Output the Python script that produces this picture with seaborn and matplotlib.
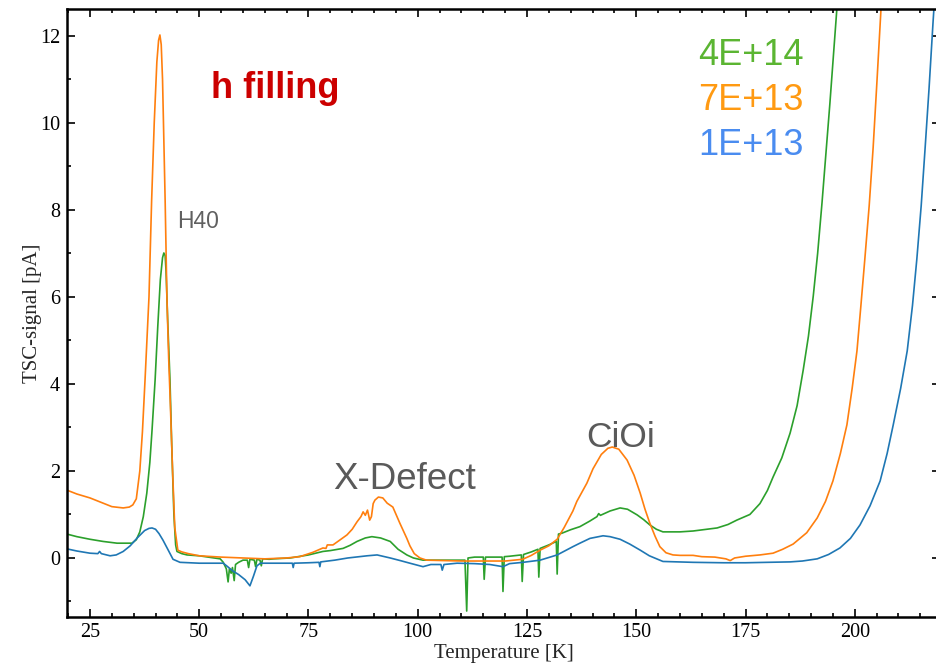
import numpy as np
import pandas as pd
import matplotlib
matplotlib.use("Agg")
import matplotlib.pyplot as plt
from matplotlib.ticker import MultipleLocator
import seaborn as sns

# ---------------- data ----------------
temp_4e14 = [19.7, 22, 25, 28, 31.2, 34.6, 35.6, 36.4, 37.2, 38, 38.7, 39.2, 39.9, 40.5, 41.1, 41.6, 41.9,
             42.2, 42.4, 42.8, 43.3, 43.7, 44.2, 44.6, 44.9, 46, 47.2, 50, 54.8, 55.5, 56.2, 56.6, 56.9,
             57.3, 57.6, 58.0, 58.3, 59.0, 60.0, 61.0, 61.3, 61.6, 62.6, 62.9, 63.2, 63.9, 64.2,
             64.5, 66, 67, 70.8, 75, 78.3, 80, 82.9, 84.5, 86.1, 88, 89.5, 91.5, 93.7, 95.5, 97.5, 99,
             101.2, 105, 110.8, 111.2, 111.5, 113, 115.0, 115.2, 115.5, 117, 119.3, 119.5, 119.8,
             121, 123.7, 123.9, 124.2, 126, 127.5, 127.7, 128.0, 130, 131.7, 131.9, 132.2, 133,
             135, 137.1, 139.4, 141, 141.4, 141.8, 144, 146.3, 148, 150.2, 151.7, 153.1, 154.6, 156.1, 160, 163,
             168.5, 171, 173, 176, 178.3, 180, 181.3, 183.3, 185.2, 186.8, 188.2, 189.4, 190.5, 191.5,
             192.5, 193.4, 194.3, 195.9, 197]
sig_4e14 = [0.55, 0.49, 0.43, 0.38, 0.34, 0.34, 0.42, 0.6, 0.95, 1.49, 2.2, 2.94, 4.09, 5.3, 6.4, 6.9, 7.01,
            6.95, 6.6, 5.4, 4.1, 2.6, 1.0, 0.3, 0.15, 0.1, 0.07, 0.05, -0.02, -0.1, -0.25, -0.55, -0.25,
            -0.35, -0.22, -0.52, -0.15, -0.1, -0.05, -0.05, -0.22, -0.03, -0.05, -0.2, -0.03, -0.05, -0.18,
            -0.02, -0.03, -0.02, 0.0, 0.07, 0.15, 0.17, 0.22, 0.29, 0.38, 0.46, 0.49, 0.46, 0.38, 0.2, 0.07, 0.0,
            -0.05, -0.05, -0.05, -1.22, 0.0, 0.02, 0.02, -0.49, 0.02, 0.02, 0.02, -0.77, 0.03,
            0.04, 0.07, -0.54, 0.08, 0.14, 0.2, -0.44, 0.22, 0.3, 0.38, -0.37, 0.55, 0.57,
            0.65, 0.72, 0.85, 0.95, 1.02, 0.98, 1.08, 1.15, 1.12, 0.99, 0.88, 0.76, 0.66, 0.6, 0.6, 0.62,
            0.69, 0.77, 0.87, 1.0, 1.25, 1.55, 1.86, 2.3, 2.87, 3.5, 4.32, 5.1, 6.02, 7.0,
            8.16, 9.3, 10.44, 12.62, 14.2]

temp_7e13 = [19.7, 22, 25, 27.5, 30, 32.6, 34, 34.8, 35.6, 36.4, 37.0, 37.6, 38.5, 39.1, 39.7, 40.3, 40.7,
             41.0, 41.3, 41.6, 42.2, 42.6, 43.0, 43.4, 43.9, 44.4, 45.1, 46, 47.5, 50, 55, 60, 65, 70, 73,
             76, 78.3, 79.0, 79.3, 80.6, 82, 83.8, 85, 86.1, 87.0, 87.5, 88.0, 88.5, 89.0, 89.4, 89.8,
             90.2, 91.0, 92, 93, 94.3, 95.9, 97.5, 98.2, 99.2, 100.5, 102, 110, 120, 124, 126, 128,
             130, 131.9, 133.5, 135.5, 136.4, 138.7, 140.1, 142, 143.5, 144.5, 146, 147.9, 149.5,
             150.9, 152, 153.1, 154.3, 155.4, 156.8, 158.4, 160, 163, 165, 168, 170.5, 171.5, 172.5,
             175, 178.3, 181.3, 183.5, 185.9, 189, 191.4, 193.3, 195, 196.7, 198.2, 199.4, 200.5,
             201.4, 202.3, 203.3, 204.2, 205.1, 206.0, 207]
sig_7e13 = [1.56, 1.47, 1.38, 1.28, 1.18, 1.15, 1.17, 1.22, 1.36, 2.0, 2.9, 4.1, 6.0, 8.2, 10.0, 11.4, 11.9,
            12.02, 11.8, 11.0, 8.2, 6.0, 4.6, 3.5, 2.0, 0.7, 0.18, 0.14, 0.1, 0.05, 0.02, 0.0, -0.02, 0.0, 0.03,
            0.13, 0.23, 0.22, 0.3, 0.3, 0.4, 0.53, 0.66, 0.83, 0.95, 1.06, 0.98, 1.1, 0.87, 0.95, 1.25,
            1.33, 1.40, 1.38, 1.26, 1.17, 0.8, 0.45, 0.28, 0.1, 0.0, -0.05, -0.07, -0.07, -0.03, 0.06, 0.18,
            0.28, 0.43, 0.7, 1.08, 1.3, 1.72, 2.05, 2.38, 2.52, 2.55, 2.5, 2.25, 1.9,
            1.49, 1.12, 0.8, 0.5, 0.26, 0.12, 0.07, 0.06, 0.06, 0.03, 0.02, -0.02, -0.06, 0.0,
            0.04, 0.07, 0.11, 0.2, 0.32, 0.58, 0.92, 1.3, 1.77, 2.4, 3.06, 3.9, 4.76,
            5.8, 6.87, 8.1, 9.43, 11.0, 12.62, 14.4]

temp_1e13 = [19.7, 22, 25, 26.8, 27.2, 27.6, 29.6, 31, 32.6, 34.2, 35.8, 37.5, 38.5, 39.2, 40.0, 40.8,
             41.7, 42.8, 44, 45.6, 50, 55.5, 56.5, 57.7, 59, 60.5, 61.6, 62.4, 63.2, 64, 70, 71.3, 71.5,
             71.7, 75, 77.4, 77.6, 77.8, 81, 84, 88.4, 90.7, 93.7, 96, 98.2, 101.2, 103, 105.3, 105.6,
             106, 109, 113, 116.5, 119.5, 121, 124.1, 128, 131.9, 135.5, 137.1, 139.4, 142.4, 144,
             146.3, 148.5, 150.9, 153, 156.1, 163, 170, 175, 180, 185.2, 188, 191.4, 194, 196.6, 199,
             201.2, 203.5, 205.8, 207.4, 208.8, 210.5, 212, 213.2, 214.2, 215.2, 216.1, 217.0, 217.9, 219]
sig_1e13 = [0.21, 0.16, 0.11, 0.1, 0.15, 0.1, 0.05, 0.07, 0.15, 0.28, 0.46, 0.63, 0.68, 0.69, 0.66, 0.56,
            0.41, 0.2, -0.03, -0.1, -0.12, -0.12, -0.2, -0.3, -0.38, -0.5, -0.64, -0.42, -0.18, -0.12, -0.12, -0.12, -0.22,
            -0.12, -0.11, -0.1, -0.2, -0.09, -0.05, 0.0, 0.05, 0.07, 0.0, -0.06, -0.12, -0.2, -0.15, -0.15, -0.28,
            -0.15, -0.12, -0.13, -0.15, -0.2, -0.13, -0.1, -0.05, 0.07, 0.26, 0.34, 0.45, 0.51, 0.49,
            0.43, 0.32, 0.18, 0.05, -0.08, -0.1, -0.11, -0.11, -0.1, -0.09, -0.07, -0.02, 0.08, 0.23, 0.45,
            0.76, 1.2, 1.77, 2.4, 3.06, 3.9, 4.76, 5.8, 6.87, 8.1, 9.43, 10.8, 12.3, 14.0]

series_names = ["4E+14", "7E+13", "1E+13"]
line_colors = ["#2ca02c", "#ff7f0e", "#1f77b4"]
label_colors = ["#5bb532", "#ff9a12", "#4a8cf0"]

x_ticks = [25, 50, 75, 100, 125, 150, 175, 200]
y_ticks = [0, 2, 4, 6, 8, 10, 12]

# ---------------- build table ----------------
df = pd.concat([
    pd.DataFrame({"T": temp_4e14, "S": sig_4e14, "fluence": series_names[0]}),
    pd.DataFrame({"T": temp_7e13, "S": sig_7e13, "fluence": series_names[1]}),
    pd.DataFrame({"T": temp_1e13, "S": sig_1e13, "fluence": series_names[2]}),
], ignore_index=True)

sns.set_style("ticks")
plt.rcParams["font.family"] = ["Liberation Serif", "DejaVu Serif"]

W, H = 937, 664
fig = plt.figure(figsize=(W / 100, H / 100), dpi=100)

def fx(px):
    return px / W

def fy(py):
    return 1 - py / H

ax_l, ax_r, ax_t, ax_b = 67, 940, 9.3, 616.5
ax = fig.add_axes([fx(ax_l), fy(ax_b), fx(ax_r - ax_l), (ax_b - ax_t) / H])

sns.lineplot(data=df, x="T", y="S", hue="fluence", hue_order=series_names,
             palette=dict(zip(series_names, line_colors)), sort=False, estimator=None,
             linewidth=1.2, legend=False, ax=ax)

ax.set_xlim(19.74, 219.5)
ax.set_ylim(-1.345, 12.61)
ax.set_xticks(x_ticks)
ax.set_yticks(y_ticks)
ax.xaxis.set_minor_locator(MultipleLocator(5))
ax.yaxis.set_minor_locator(MultipleLocator(1))
ax.tick_params(which="both", direction="in", top=True, right=True, width=1.2, colors="black")
ax.tick_params(which="major", length=5.5, labelsize=14.5, pad=5)
ax.tick_params(which="minor", length=3)
for s in ax.spines.values():
    s.set_linewidth(1.8)
    s.set_color("black")

ax.set_xlabel("Temperature [K]", fontsize=15, labelpad=1)
ax.set_ylabel("TSC-signal [pA]", fontsize=15)
ax.yaxis.set_label_coords((42 - ax_l) / (ax_r - ax_l), 0.5)

sans = ["Liberation Sans", "DejaVu Sans"]
fig.text(fx(211), fy(98.3), "h filling", color="#cc0000", fontsize=26, fontweight="bold",
         family=sans, ha="left", va="baseline")
fig.text(fx(176.7), fy(227.7), "H40", color="#606060", fontsize=16.5, family=sans,
         ha="left", va="baseline")
fig.text(fx(332.7), fy(489.3), "X-Defect", color="#5a5a5a", fontsize=26.5, family=sans,
         ha="left", va="baseline")
fig.text(fx(586.7), fy(446.7), "CiOi", color="#5a5a5a", fontsize=25.5, family=sans,
         ha="left", va="baseline")
for name, col, base in zip(series_names, label_colors, [65, 110, 155]):
    fig.text(fx(803.3), fy(base), name, color=col, fontsize=26, family=sans,
             ha="right", va="baseline")

fig.savefig("out.png", dpi=100)
